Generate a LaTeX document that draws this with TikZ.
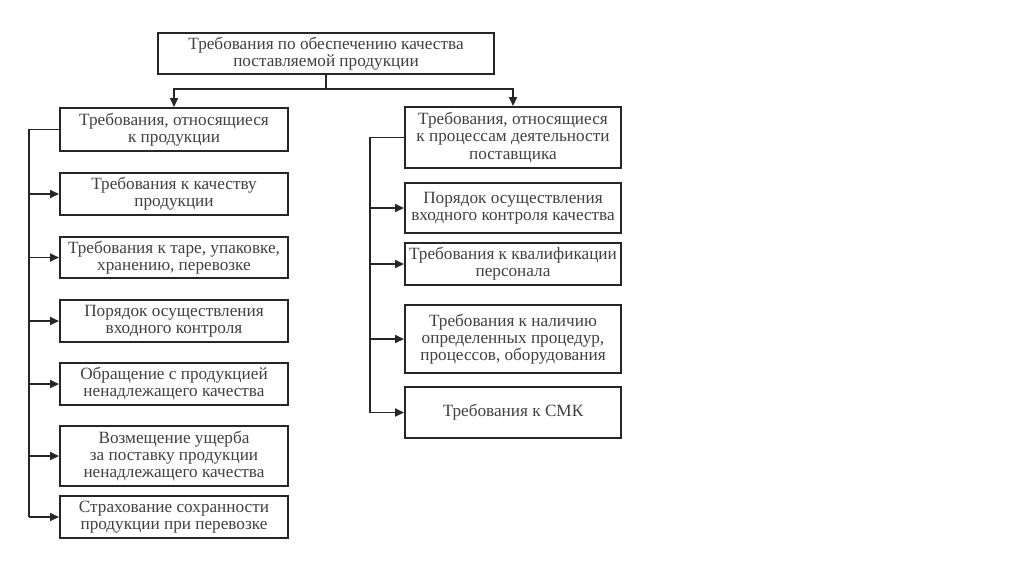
\documentclass[tikz,border=0pt]{standalone}
\usepackage{fontspec}
\setmainfont{Liberation Serif}
\usetikzlibrary{arrows.meta}
\begin{document}
\begin{tikzpicture}[x=1pt,y=-1pt,
  box/.style={draw=black!85, line width=2pt, inner sep=1pt, align=center, text=black!75,
    font=\fontsize{17.2}{17.2}\selectfont},
  lbox/.style={box, minimum width=228pt},
  rbox/.style={box, minimum width=216pt},
  conn/.style={draw=black!85, line width=1.8pt},
  arr/.style={conn, -{Triangle[length=9pt,width=8pt]}}]
\useasboundingbox (0,0) rectangle (1024,574);
\node[box, minimum width=336pt, minimum height=41pt] (T) at (326,53.5) {Требования по обеспечению качества\\поставляемой продукции};
% left column
\node[lbox, minimum height=43pt] (L1) at (174,129.5) {Требования, относящиеся\\к продукции};
\node[lbox, minimum height=42pt] (L2) at (174,194) {Требования к качеству\\продукции};
\node[lbox, minimum height=41pt] (L3) at (174,257.5) {Требования к таре, упаковке,\\хранению, перевозке};
\node[lbox, minimum height=42pt] (L4) at (174,321) {Порядок осуществления\\входного контроля};
\node[lbox, minimum height=42pt] (L5) at (174,384) {Обращение с продукцией\\ненадлежащего качества};
\node[lbox, minimum height=60pt] (L6) at (174,456) {Возмещение ущерба\\за поставку продукции\\ненадлежащего качества};
\node[lbox, minimum height=42pt] (L7) at (174,517) {Страхование сохранности\\продукции при перевозке};
% right column
\node[rbox, minimum height=61pt] (R1) at (513,137.5) {Требования, относящиеся\\к процессам деятельности\\поставщика};
\node[rbox, minimum height=50pt] (R2) at (513,208) {Порядок осуществления\\входного контроля качества};
\node[rbox, minimum height=42pt] (R3) at (513,264) {Требования к квалификации\\персонала};
\node[rbox, minimum height=68pt] (R4) at (513,339) {Требования к наличию\\определенных процедур,\\процессов, оборудования};
\node[rbox, minimum height=51pt] (R5) at (513,412.5) {Требования к СМК};
% top connectors
\coordinate (J) at (326,89);
\draw[conn] (T.south) -- (J);
\draw[arr] (J) -| (L1.north);
\draw[arr] (J) -| (R1.north);
% left spine
\coordinate (LS) at (29,0);
\draw[conn] (L1.west) -- (LS |- L1.west) -- (LS |- L7.west);
\foreach \n in {L2,L3,L4,L5,L6,L7} \draw[arr] (LS |- \n.west) -- (\n.west);
% right spine
\coordinate (RS) at (370,0);
\draw[conn] (R1.west) -- (RS |- R1.west) -- (RS |- R5.west);
\foreach \n in {R2,R3,R4,R5} \draw[arr] (RS |- \n.west) -- (\n.west);
\end{tikzpicture}
\end{document}
